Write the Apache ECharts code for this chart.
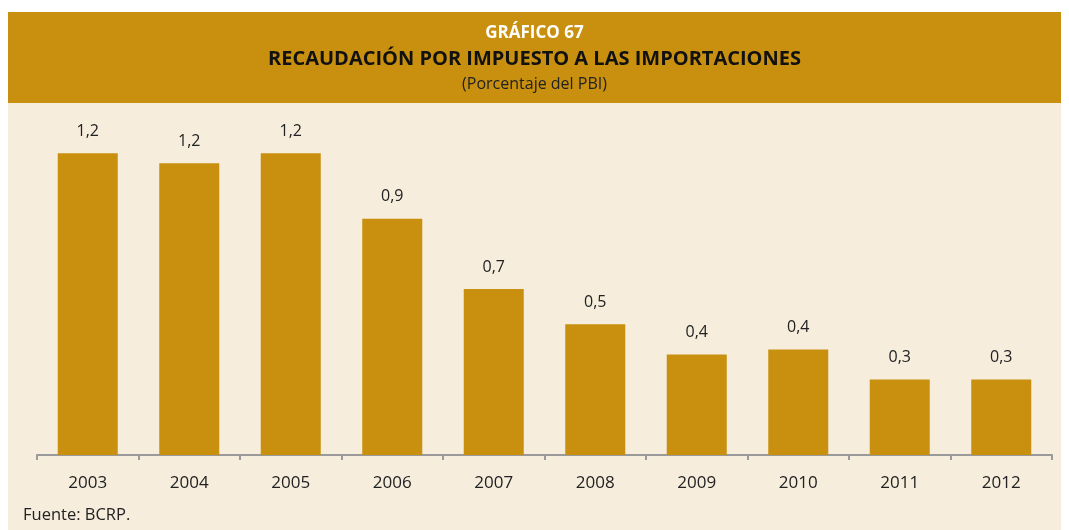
<!DOCTYPE html>
<html><head><meta charset="utf-8">
<script src="https://cdn.jsdelivr.net/npm/echarts@6/dist/echarts.min.js"></script>
<style>html,body{margin:0;padding:0;background:#fff}#c{width:1069px;height:530px}</style>
</head><body><div id="c"></div>
<script>
const categories = ['2003','2004','2005','2006','2007','2008','2009','2010','2011','2012'];
const values = [1.20, 1.16, 1.20, 0.94, 0.66, 0.52, 0.40, 0.42, 0.30, 0.30];
const titleMain = 'GRÁFICO 67';
const titleSub = 'RECAUDACIÓN POR IMPUESTO A LAS IMPORTACIONES';
const titleUnit = '(Porcentaje del PBI)';
const source = 'Fuente: BCRP.';

const gold = '#C8900E';
const cream = '#F6EDDC';
const font = 'Open Sans';

const chart = echarts.init(document.getElementById('c'), null, {renderer:'canvas'});
chart.setOption({
  backgroundColor: '#ffffff',
  animation: false,
  graphic: [
    {type:'rect', left:8, top:12, shape:{width:1053, height:91}, style:{fill:gold}, z:-10},
    {type:'rect', left:8, top:103, shape:{width:1053, height:427}, style:{fill:cream}, z:-10},
    {type:'text', left:'center', top:25, style:{text:titleMain, fill:'#ffffff', font:'bold 17px "Open Sans"'}},
    {type:'text', left:'center', top:49, style:{text:titleSub, fill:'#111111', font:'bold 20px "Open Sans"'}},
    {type:'text', left:'center', top:76, style:{text:titleUnit, fill:'#222222', font:'16px "Open Sans"'}},
    {type:'text', left:23, top:507, style:{text:source, fill:'#222222', font:'16.5px "Open Sans"'}}
  ],
  grid: {left:37, right:17, top:103, bottom:75, containLabel:false},
  xAxis: {
    type:'category', data:categories,
    axisLine:{lineStyle:{color:'#9a9a9a', width:2}},
    axisTick:{show:true, length:5, lineStyle:{color:'#9a9a9a', width:2}},
    axisLabel:{color:'#222', fontSize:17, fontFamily:font, margin:20}
  },
  yAxis: {type:'value', min:0, max:1.4, show:false, splitLine:{show:false}},
  series: [{
    type:'bar', data:values, barWidth:60,
    itemStyle:{color:gold},
    label:{show:true, position:'top', distance:14, color:'#222', fontSize:16, fontFamily:font,
      formatter: p => p.value.toFixed(1).replace('.', ',')}
  }]
});
</script></body></html>
